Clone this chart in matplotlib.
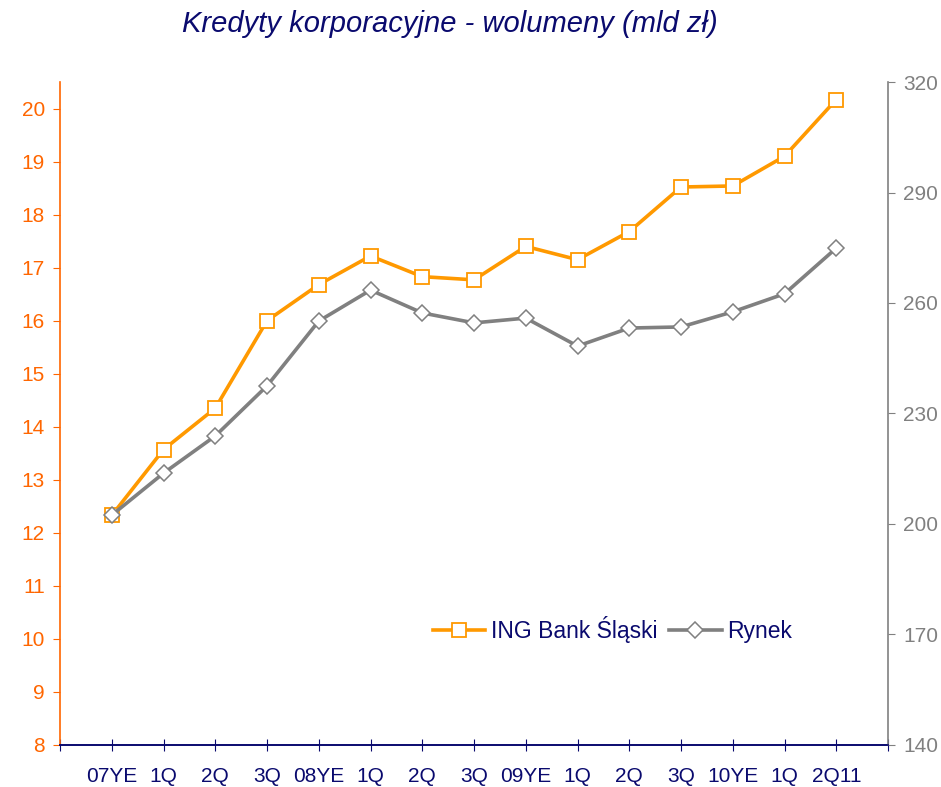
import matplotlib.pyplot as plt

plt.rcParams['font.family'] = ['Liberation Sans', 'DejaVu Sans']

# dane
kwartaly = ['07YE', '1Q', '2Q', '3Q', '08YE', '1Q', '2Q', '3Q', '09YE',
            '1Q', '2Q', '3Q', '10YE', '1Q', '2Q11']
ing = [12.33, 13.57, 14.35, 16.0, 16.68, 17.22, 16.83, 16.77, 17.4,
       17.15, 17.68, 18.52, 18.54, 19.1, 20.17]
rynek = [202.4, 213.8, 223.9, 237.5, 255.1, 263.5, 257.3, 254.6, 255.9,
         248.3, 253.2, 253.5, 257.6, 262.5, 274.9]

navy = '#0A0A6E'
pomar = '#FF9900'
pomar_os = '#FF6600'
szary = '#808080'

fig = plt.figure(figsize=(9.41, 7.87), dpi=100)
ax = fig.add_axes([0.0638, 0.0534, 0.8799, 0.8424])
ax2 = ax.twinx()

x = list(range(len(kwartaly)))
l1, = ax.plot(x, ing, color=pomar, lw=2.6, marker='s', ms=10.5,
              mfc='white', mec=pomar, mew=1.3, label='ING Bank Śląski')
l2, = ax2.plot(x, rynek, color=szary, lw=2.6, marker='D', ms=8,
               mfc='white', mec=szary, mew=1.1, label='Rynek')

# osie
ax.set_xlim(-1, 15)
ax.set_xticks(range(-1, 16))
ax.set_xticklabels([''] + kwartaly + [''])
ax.set_ylim(8, 20.5)
ax.set_yticks(range(8, 21))
ax2.set_ylim(140, 320)
ax2.set_yticks(range(140, 321, 30))

for a in (ax, ax2):
    a.spines['top'].set_visible(False)
    a.spines['bottom'].set_color(navy)
    a.spines['bottom'].set_linewidth(1.2)
ax.spines['right'].set_visible(False)
ax2.spines['left'].set_visible(False)
ax.spines['left'].set_color(pomar_os)
ax.spines['left'].set_linewidth(1.2)
ax2.spines['right'].set_color(szary)
ax2.spines['right'].set_linewidth(1.2)

ax.tick_params(axis='x', direction='inout', length=9, color=navy,
               labelcolor=navy, labelsize=15, pad=11)
ax.tick_params(axis='y', direction='out', length=5, color=pomar_os,
               labelcolor=pomar_os, labelsize=15, pad=6)
ax2.tick_params(axis='y', direction='out', length=5, color=szary,
                labelcolor=szary, labelsize=15, pad=6)

# legenda
ax2.legend(handles=[l1, l2], loc='center left', bbox_to_anchor=(0.45, 0.174),
           ncol=2, frameon=False, fontsize=16.5, handlelength=2.3,
           handletextpad=0.25, columnspacing=0.5, labelcolor=navy,
           borderpad=0, borderaxespad=0)

fig.text(0.478, 0.97, 'Kredyty korporacyjne - wolumeny (mld zł)',
         ha='center', va='center', style='italic', color=navy, fontsize=21)

fig.savefig('out.png', dpi=100)
